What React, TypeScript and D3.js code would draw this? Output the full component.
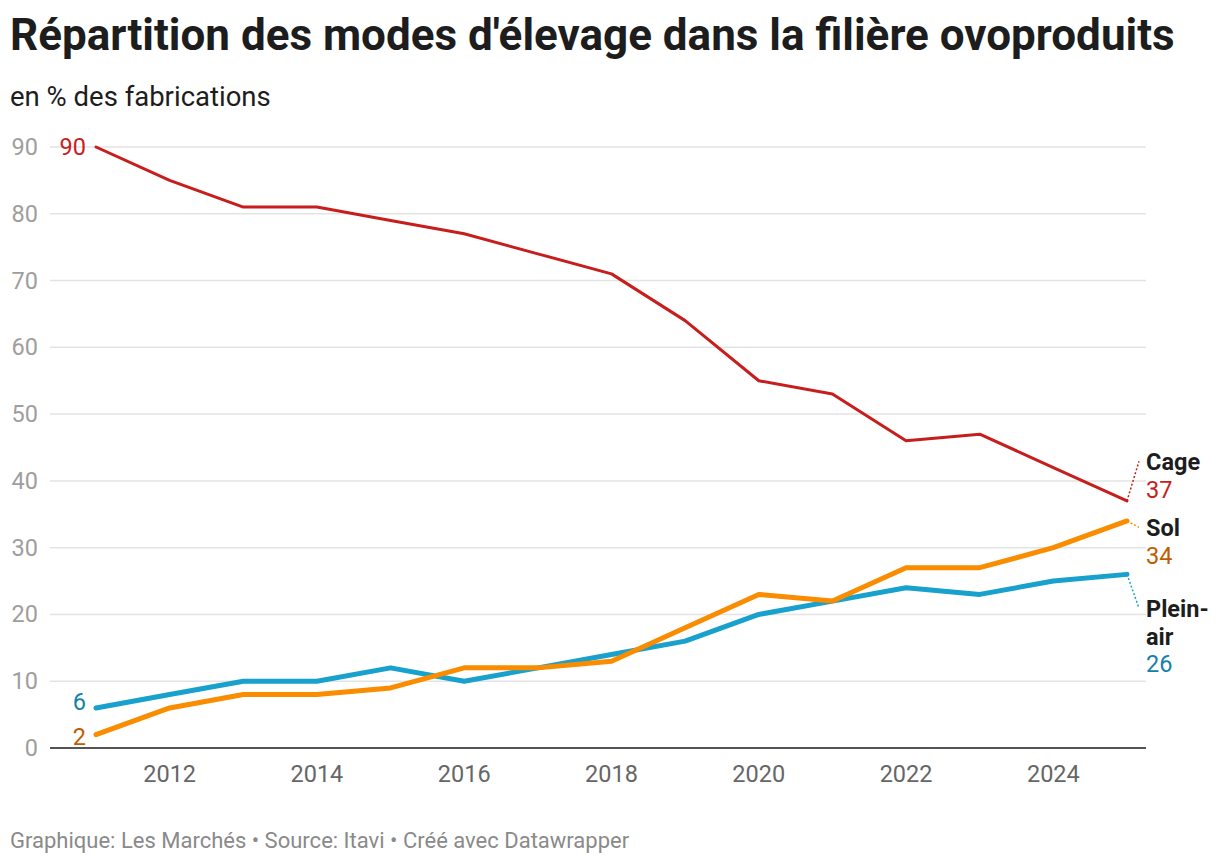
import React, { useEffect, useRef } from 'react'
import * as d3 from 'd3'

const years = [2011, 2012, 2013, 2014, 2015, 2016, 2017, 2018, 2019, 2020, 2021, 2022, 2023, 2024, 2025]
const cage = [90, 85, 81, 81, 79, 77, 74, 71, 64, 55, 53, 46, 47, 42, 37]
const sol = [2, 6, 8, 8, 9, 12, 12, 13, 18, 23, 22, 27, 27, 30, 34]
const pleinAir = [6, 8, 10, 10, 12, 10, 12, 14, 16, 20, 22, 24, 23, 25, 26]
const yTicks = [0, 10, 20, 30, 40, 50, 60, 70, 80, 90]
const xTicks = [2012, 2014, 2016, 2018, 2020, 2022, 2024]

type Series = {
  name: string[]
  values: number[]
  color: string
  textColor: string
  width: number
  labelY: number // baseline of the first label line, in value units
  startShift: number
}

const series: Series[] = [
  { name: ['Cage'], values: cage, color: '#c71e1d', textColor: '#c71e1d', width: 3, labelY: 41.6, startShift: 0 },
  { name: ['Plein-', 'air'], values: pleinAir, color: '#18a1cd', textColor: '#1580a8', width: 5, labelY: 19.6, startShift: -6 },
  { name: ['Sol'], values: sol, color: '#fa8c00', textColor: '#c05c00', width: 5, labelY: 31.7, startShift: 2 },
]

const font = 'Roboto, sans-serif'

export default function App() {
  const ref = useRef<SVGSVGElement | null>(null)
  useEffect(() => {
    if (!ref.current) return
    const svg = d3.select(ref.current)
    svg.selectAll('*').remove()

    const x = d3.scaleLinear().domain([2011, 2025]).range([96, 1127])
    const y = d3.scaleLinear().domain([0, 90]).range([748, 147])

    svg.append('text').attr('x', 10).attr('y', 50).attr('font-family', font).attr('font-weight', 700)
      .attr('font-size', 44).attr('fill', '#1d1d1d').text("Répartition des modes d'élevage dans la filière ovoproduits")
    svg.append('text').attr('x', 10).attr('y', 106).attr('font-family', font)
      .attr('font-size', 27.5).attr('fill', '#1d1d1d').text('en % des fabrications')

    // grid
    const grid = svg.append('g')
    grid.selectAll('line').data(yTicks.filter((t) => t > 0)).join('line')
      .attr('x1', 50).attr('x2', 1146).attr('y1', (d) => y(d)).attr('y2', (d) => y(d))
      .attr('stroke', '#e3e3e3').attr('stroke-width', 1.5)
    grid.selectAll('text').data(yTicks).join('text')
      .attr('x', 38).attr('y', (d) => y(d) + 8).attr('text-anchor', 'end')
      .attr('font-family', font).attr('font-size', 23.5).attr('fill', '#9e9e9e').text((d) => d)
    svg.append('line').attr('x1', 50).attr('x2', 1146).attr('y1', y(0)).attr('y2', y(0))
      .attr('stroke', '#1d1d1d').attr('stroke-width', 1.5)

    svg.append('g').selectAll('text').data(xTicks).join('text')
      .attr('x', (d) => x(d)).attr('y', 782).attr('text-anchor', 'middle')
      .attr('font-family', font).attr('font-size', 23.5).attr('fill', '#666').text((d) => d)

    const line = d3.line<number>().x((_, i) => x(years[i])).y((d) => y(d))

    series.forEach((s) => {
      svg.append('path').attr('d', line(s.values)).attr('fill', 'none').attr('stroke', s.color)
        .attr('stroke-width', s.width).attr('stroke-linejoin', 'round').attr('stroke-linecap', 'round')
    })

    // start labels
    series.forEach((s) => {
      const v = s.values[0]
      svg.append('text').attr('x', 86).attr('y', y(v) + 8 + s.startShift).attr('text-anchor', 'end')
        .attr('font-family', font).attr('font-size', 23.5).attr('fill', s.textColor).text(v)
    })

    // end labels
    series.forEach((s) => {
      const last = s.values[s.values.length - 1]
      const base = y(s.labelY)
      const lx = 1146
      svg.append('line').attr('x1', x(2025)).attr('y1', y(last)).attr('x2', lx - 7).attr('y2', base - 9)
        .attr('stroke', s.color).attr('stroke-width', 1.5).attr('stroke-dasharray', '2,2')
      const t = svg.append('text').attr('font-family', font).attr('font-size', 23.5)
      s.name.forEach((n, i) => {
        t.append('tspan').attr('x', lx).attr('y', base + i * 27.5).attr('font-weight', 700)
          .attr('fill', '#1d1d1d').text(n)
      })
      t.append('tspan').attr('x', lx).attr('y', base + s.name.length * 27.5)
        .attr('fill', s.textColor).text(last)
    })

    svg.append('text').attr('x', 10).attr('y', 848).attr('font-family', font).attr('font-size', 22)
      .attr('fill', '#8a8a8a').text('Graphique: Les Marchés • Source: Itavi • Créé avec Datawrapper')
  }, [])

  return (
    <svg ref={ref} width={1220} height={864} style={{ position: 'absolute', left: 0, top: 0, background: '#fff' }} />
  )
}
